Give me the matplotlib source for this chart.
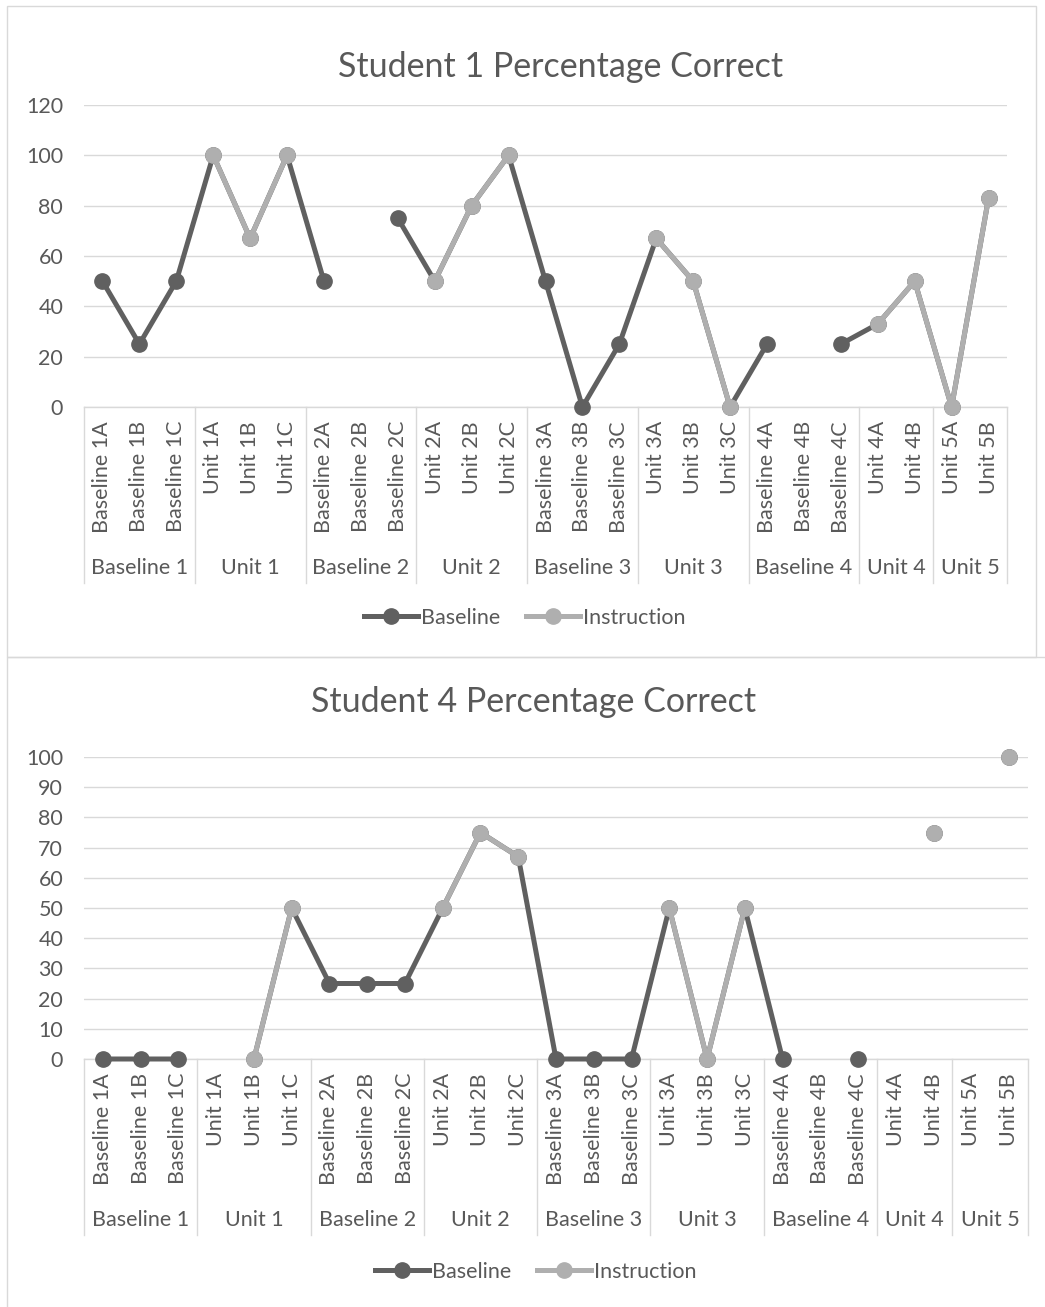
import numpy as np
import matplotlib
matplotlib.use("Agg")
import matplotlib.pyplot as plt
from matplotlib.lines import Line2D
from matplotlib.patches import Rectangle
from matplotlib.transforms import blended_transform_factory

plt.rcParams['font.family'] = ['Lato', 'DejaVu Sans']

# Categories and groups shared by both charts
categories = ["Baseline 1A", "Baseline 1B", "Baseline 1C",
              "Unit 1A", "Unit 1B", "Unit 1C",
              "Baseline 2A", "Baseline 2B", "Baseline 2C",
              "Unit 2A", "Unit 2B", "Unit 2C",
              "Baseline 3A", "Baseline 3B", "Baseline 3C",
              "Unit 3A", "Unit 3B", "Unit 3C",
              "Baseline 4A", "Baseline 4B", "Baseline 4C",
              "Unit 4A", "Unit 4B",
              "Unit 5A", "Unit 5B"]
group_names = ["Baseline 1", "Unit 1", "Baseline 2", "Unit 2", "Baseline 3",
               "Unit 3", "Baseline 4", "Unit 4", "Unit 5"]
group_sizes = [3, 3, 3, 3, 3, 3, 3, 2, 2]

nan = np.nan
# Student 1
s1_baseline = [50, 25, 50, 100, 67, 100, 50, nan, 75, 50, 80, 100, 50, 0, 25,
               67, 50, 0, 25, nan, 25, 33, 50, 0, 83]
s1_instruction = [nan, nan, nan, 100, 67, 100, nan, nan, nan, 50, 80, 100, nan, nan, nan,
                  67, 50, 0, nan, nan, nan, 33, 50, 0, 83]
s1_yticks = [0, 20, 40, 60, 80, 100, 120]

# Student 4
s4_baseline = [0, 0, 0, nan, 0, 50, 25, 25, 25, 50, 75, 67, 0, 0, 0,
               50, 0, 50, 0, nan, 0, nan, 75, nan, 100]
s4_instruction = [nan, nan, nan, nan, 0, 50, nan, nan, nan, 50, 75, 67, nan, nan, nan,
                  50, 0, 50, nan, nan, nan, nan, 75, nan, 100]
s4_yticks = [0, 10, 20, 30, 40, 50, 60, 70, 80, 90, 100]

W, H = 1045, 1307
DARK = "#606060"
LIGHT = "#AFAFAF"
TEXT = "#595959"
GRID = "#D9D9D9"
FS = 15.5
TITLE_FS = 24.5
LW = 3.6
MS = 11

fig = plt.figure(figsize=(W / 100, H / 100), dpi=100)


def fig_rect(x0, y0, x1, y1):
    return [x0 / W, 1 - y1 / H, (x1 - x0) / W, (y1 - y0) / H]


def draw_chart(box, plot, title, title_xy, baseline, instruction, yticks, legend_xy):
    bx0, by0, bx1, by1 = box
    fig.add_artist(Rectangle((bx0 / W, 1 - by1 / H), (bx1 - bx0) / W, (by1 - by0) / H,
                             transform=fig.transFigure, fill=False,
                             edgecolor=GRID, linewidth=1.0))
    px0, py0, px1, py1 = plot
    ax = fig.add_axes(fig_rect(px0, py0, px1, py1))
    n = len(categories)
    x = np.arange(n)
    ax.plot(x, baseline, color=DARK, lw=LW, marker='o', ms=MS,
            solid_joinstyle='round', solid_capstyle='round', zorder=3, clip_on=False)
    ax.plot(x, instruction, color=LIGHT, lw=LW, marker='o', ms=MS,
            solid_joinstyle='round', solid_capstyle='round', zorder=4, clip_on=False)
    ax.set_xlim(-0.5, n - 0.5)
    ax.set_ylim(yticks[0], yticks[-1])
    ax.set_yticks(yticks)
    ax.set_yticklabels([str(t) for t in yticks])
    ax.set_xticks(x)
    ax.set_xticklabels(categories, rotation=90)
    ax.tick_params(axis='both', length=0, labelsize=FS, labelcolor=TEXT)
    ax.tick_params(axis='y', pad=15)
    ax.tick_params(axis='x', pad=10)
    for s in ['top', 'left', 'right']:
        ax.spines[s].set_visible(False)
    ax.spines['bottom'].set_color(GRID)
    ax.spines['bottom'].set_linewidth(1.0)
    ax.grid(axis='y', color=GRID, lw=1.0)
    ax.set_axisbelow(True)

    # Multi-level category axis: separators and group names
    tr = blended_transform_factory(ax.transData, ax.transAxes)
    ph = py1 - py0
    sep_depth = 176 / ph
    label_y = -(161 / ph)
    edges = [-0.5]
    pos = -0.5
    for name, size in zip(group_names, group_sizes):
        center = pos + size / 2
        ax.text(center, label_y, name, transform=tr, ha='center', va='center',
                fontsize=FS, color=TEXT)
        pos += size
        edges.append(pos)
    for e in edges:
        ax.add_line(Line2D([e, e], [0, -sep_depth], transform=tr, color=GRID,
                           lw=1.0, clip_on=False))

    fig.text(title_xy[0] / W, 1 - title_xy[1] / H, title, ha='center', va='center',
             fontsize=TITLE_FS, color=TEXT)

    handles = [Line2D([], [], color=DARK, lw=LW, marker='o', ms=MS),
               Line2D([], [], color=LIGHT, lw=LW, marker='o', ms=MS)]
    fig.legend(handles, ["Baseline", "Instruction"], loc='center',
               bbox_to_anchor=(legend_xy[0] / W, 1 - legend_xy[1] / H), ncol=2,
               frameon=False, fontsize=FS, labelcolor=TEXT, handlelength=2.5,
               handletextpad=0.15, columnspacing=1.2)
    return ax


draw_chart((7, 6, 1036, 657), (84, 105, 1007, 407), "Student 1 Percentage Correct",
           (561, 67), s1_baseline, s1_instruction, s1_yticks, (525, 618))
draw_chart((7, 657, 1060, 1330), (84, 757, 1028, 1059), "Student 4 Percentage Correct",
           (534, 702), s4_baseline, s4_instruction, s4_yticks, (536, 1272))

fig.savefig("out.png", dpi=100, facecolor="white")
